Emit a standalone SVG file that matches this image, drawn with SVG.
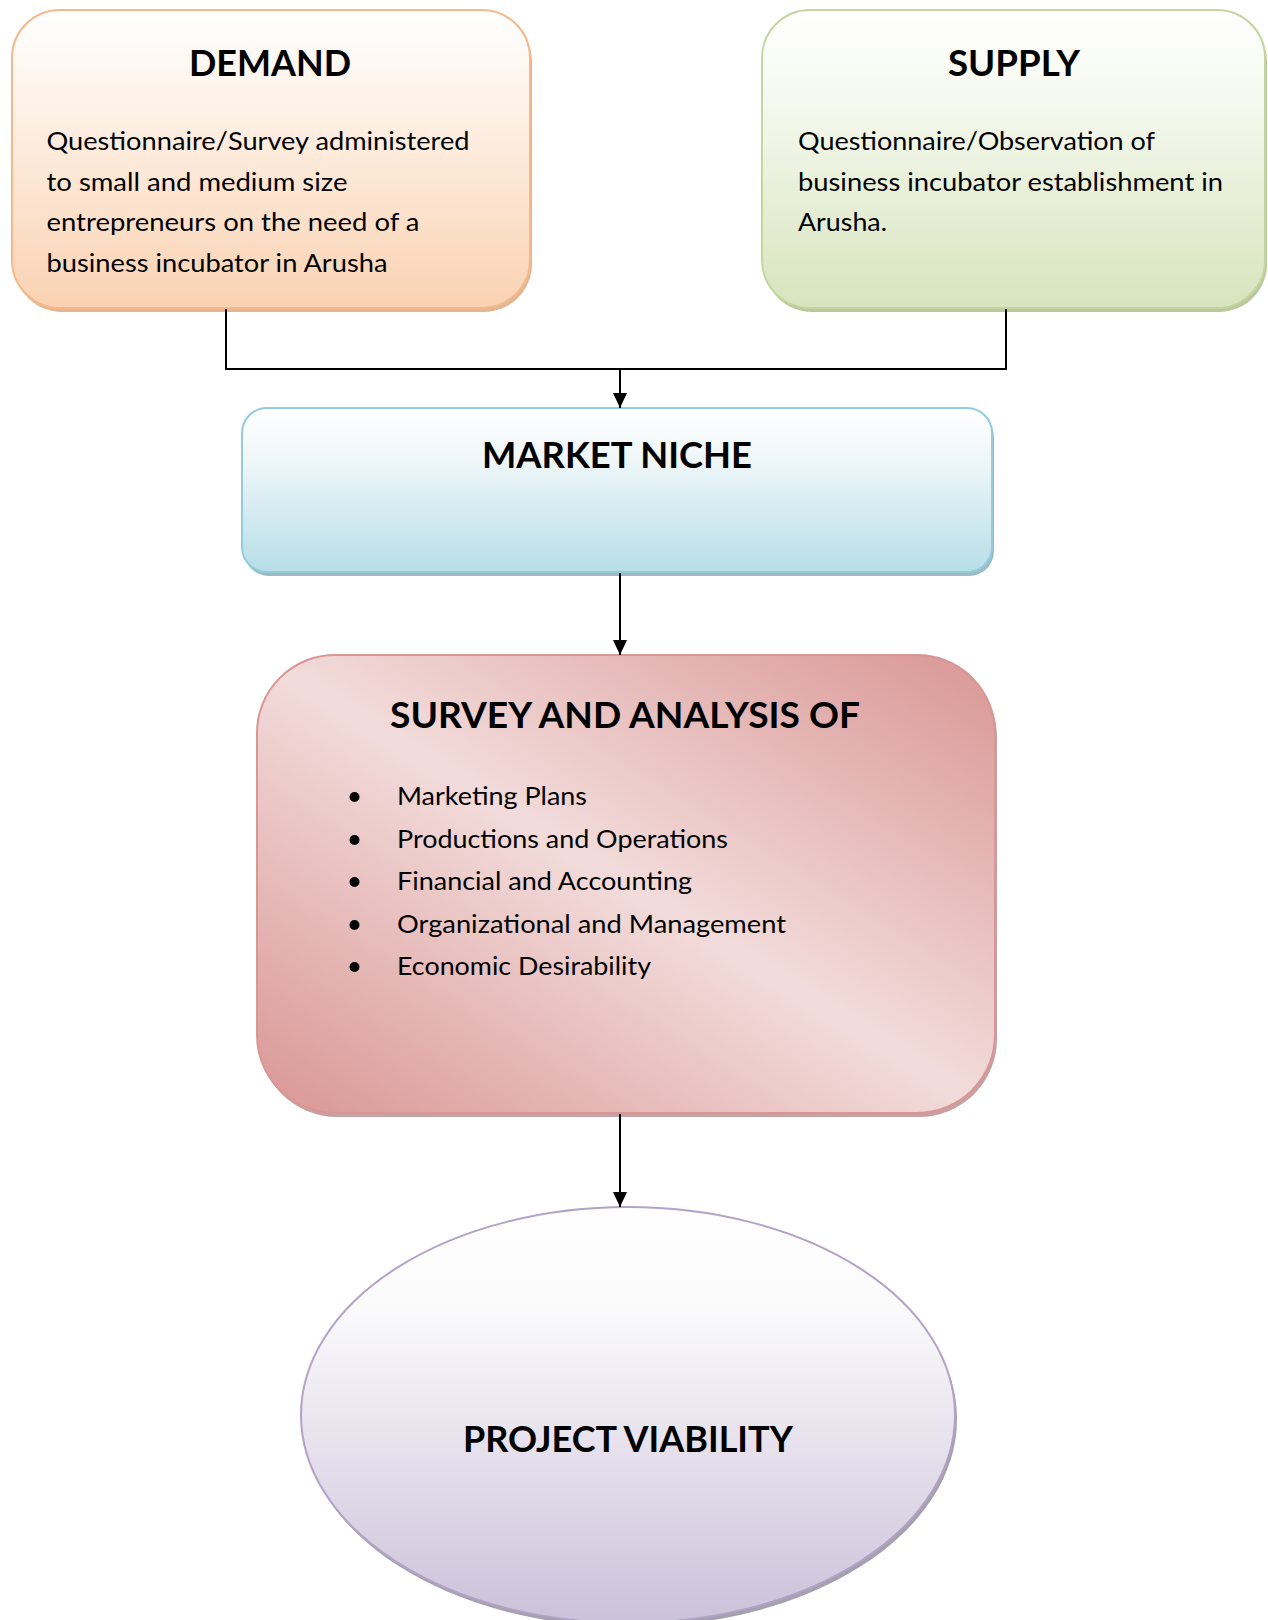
<svg xmlns="http://www.w3.org/2000/svg" width="1268" height="1620" viewBox="0 0 1268 1620">
<defs>
<linearGradient id="gDemand" x1="0" y1="0" x2="0" y2="1">
<stop offset="0" stop-color="#FFFFFF"/><stop offset="0.3" stop-color="#FEF3EA"/><stop offset="1" stop-color="#FAD2B2"/>
</linearGradient>
<linearGradient id="gSupply" x1="0" y1="0" x2="0" y2="1">
<stop offset="0" stop-color="#FFFFFF"/><stop offset="0.3" stop-color="#F6F9EF"/><stop offset="1" stop-color="#D7E4BD"/>
</linearGradient>
<linearGradient id="gMarket" x1="0" y1="0" x2="0" y2="1">
<stop offset="0" stop-color="#FFFFFF"/><stop offset="0.3" stop-color="#F0F7F9"/><stop offset="1" stop-color="#B7DEE8"/>
</linearGradient>
<linearGradient id="gSurvey" x1="1" y1="0" x2="0" y2="1">
<stop offset="0" stop-color="#D99694"/><stop offset="0.5" stop-color="#F2DCDB"/><stop offset="1" stop-color="#D99694"/>
</linearGradient>
<linearGradient id="gProject" x1="0" y1="0" x2="0" y2="1">
<stop offset="0" stop-color="#FFFFFF"/><stop offset="0.25" stop-color="#FAFAFB"/><stop offset="1" stop-color="#CCC1DA"/>
</linearGradient>
<marker id="arrow" viewBox="0 0 10 10" refX="10" refY="5" markerWidth="15" markerHeight="14" markerUnits="userSpaceOnUse" orient="auto" preserveAspectRatio="none">
<path d="M0,0 L10,5 L0,10 z" fill="#000"/>
</marker>
<style>
.title{font-family:Lato,"Liberation Sans",sans-serif;font-weight:bold;font-size:36px;fill:#000;text-anchor:middle}
.body{font-family:Lato,"Liberation Sans",sans-serif;font-size:25.5px;fill:#000}
.conn{fill:none;stroke:#000;stroke-width:2}
</style>
</defs>

<g id="demand">
<rect x="14" y="14" width="518" height="298" rx="48" fill="#D9A47C" opacity="0.8"/>
<rect x="12" y="10" width="518" height="298" rx="48" fill="url(#gDemand)" stroke="#F6B88A" stroke-width="2"/>
<text class="title" x="270" y="76" textLength="162" lengthAdjust="spacingAndGlyphs">DEMAND</text>
<text class="body" x="46.5" y="150" textLength="423" lengthAdjust="spacingAndGlyphs">Questionnaire/Survey administered</text>
<text class="body" x="46.5" y="191" textLength="301" lengthAdjust="spacingAndGlyphs">to small and medium size</text>
<text class="body" x="46.5" y="231" textLength="373" lengthAdjust="spacingAndGlyphs">entrepreneurs on the need of a</text>
<text class="body" x="46.5" y="272" textLength="341" lengthAdjust="spacingAndGlyphs">business incubator in Arusha</text>
</g>

<g id="supply">
<rect x="764" y="14" width="503" height="298" rx="48" fill="#A9B98A" opacity="0.8"/>
<rect x="762" y="10" width="503" height="298" rx="48" fill="url(#gSupply)" stroke="#C3D69B" stroke-width="2"/>
<text class="title" x="1014" y="76" textLength="132" lengthAdjust="spacingAndGlyphs">SUPPLY</text>
<text class="body" x="798" y="150" textLength="357" lengthAdjust="spacingAndGlyphs">Questionnaire/Observation of</text>
<text class="body" x="798" y="191" textLength="425" lengthAdjust="spacingAndGlyphs">business incubator establishment in</text>
<text class="body" x="798" y="231" textLength="89" lengthAdjust="spacingAndGlyphs">Arusha.</text>
</g>

<g id="market-niche">
<rect x="244" y="412" width="750" height="164" rx="25" fill="#8CAEB8" opacity="0.85"/>
<rect x="242" y="408" width="750" height="164" rx="25" fill="url(#gMarket)" stroke="#93CDDD" stroke-width="2"/>
<text class="title" x="617" y="468" textLength="270" lengthAdjust="spacingAndGlyphs">MARKET NICHE</text>
</g>

<g id="survey">
<rect x="259" y="659" width="738" height="458" rx="78" fill="#B98A89" opacity="0.8"/>
<rect x="257" y="655" width="738" height="458" rx="78" fill="url(#gSurvey)" stroke="#D99694" stroke-width="2"/>
<text class="title" x="625" y="728" textLength="470" lengthAdjust="spacingAndGlyphs">SURVEY AND ANALYSIS OF</text>
<g fill="#000">
<circle cx="354.5" cy="797" r="5"/>
<circle cx="354.5" cy="840" r="5"/>
<circle cx="354.5" cy="882" r="5"/>
<circle cx="354.5" cy="925" r="5"/>
<circle cx="354.5" cy="967" r="5"/>
</g>
<text class="body" x="397" y="805" textLength="190" lengthAdjust="spacingAndGlyphs">Marketing Plans</text>
<text class="body" x="397" y="848" textLength="331" lengthAdjust="spacingAndGlyphs">Productions and Operations</text>
<text class="body" x="397" y="890" textLength="295" lengthAdjust="spacingAndGlyphs">Financial and Accounting</text>
<text class="body" x="397" y="933" textLength="389" lengthAdjust="spacingAndGlyphs">Organizational and Management</text>
<text class="body" x="397" y="975" textLength="254" lengthAdjust="spacingAndGlyphs">Economic Desirability</text>
</g>

<g id="project-viability">
<ellipse cx="630" cy="1419" rx="327" ry="208" fill="#8F889A" opacity="0.8"/>
<ellipse cx="628" cy="1415" rx="327" ry="208" fill="url(#gProject)" stroke="#B3A2C7" stroke-width="2"/>
<text class="title" x="628" y="1452" textLength="330" lengthAdjust="spacingAndGlyphs">PROJECT VIABILITY</text>
</g>

<g id="connectors">
<polyline class="conn" points="226,309 226,369 1006,369 1006,309"/>
<line class="conn" x1="620" y1="369" x2="620" y2="408" marker-end="url(#arrow)"/>
<line class="conn" x1="620" y1="573" x2="620" y2="655" marker-end="url(#arrow)"/>
<line class="conn" x1="620" y1="1114" x2="620" y2="1207" marker-end="url(#arrow)"/>
</g>
</svg>
